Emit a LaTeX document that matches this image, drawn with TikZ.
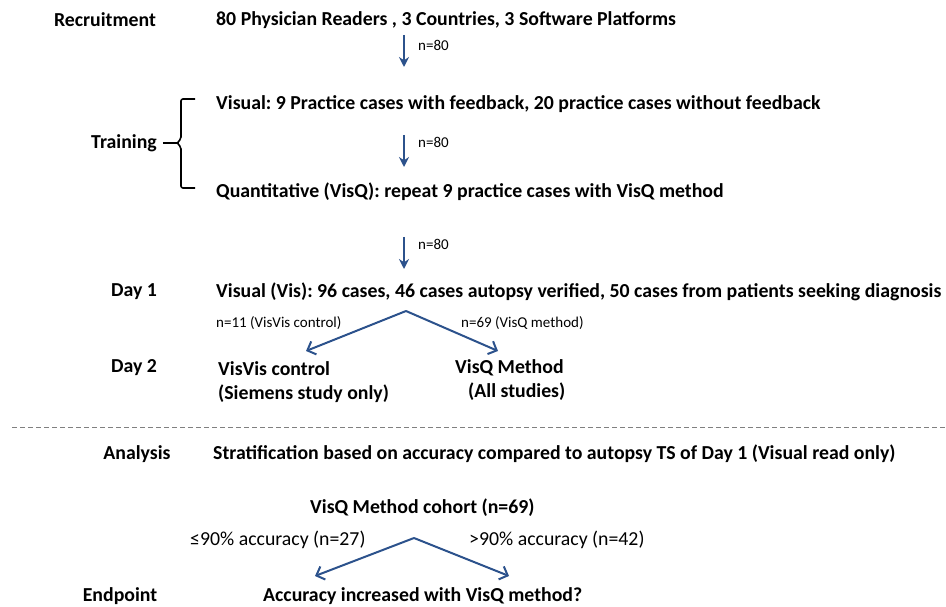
\documentclass[tikz,border=0pt]{standalone}
\usepackage{fontspec}
\setmainfont{Carlito}
\usetikzlibrary{arrows.meta}
\definecolor{flowblue}{RGB}{44,82,140}
\frenchspacing
\begin{document}
\begin{tikzpicture}[x=1pt,y=-1pt,
  lbl/.style={font=\fontsize{19.8}{24}\selectfont\bfseries, inner sep=0pt},
  txt/.style={font=\fontsize{19.8}{24}\selectfont\bfseries, inner sep=0pt, anchor=west},
  small/.style={font=\fontsize{15}{18}\selectfont, inner sep=0pt, anchor=west},
  mid/.style={font=\fontsize{19.8}{24}\selectfont, inner sep=0pt, anchor=west},
  down/.style={draw=flowblue, line width=2pt, -{Stealth[length=10pt,width=10pt]}},
  fork/.style={draw=flowblue, line width=2pt, -{Straight Barb[length=7pt,width=14pt]}}]
\useasboundingbox (0,0) rectangle (946,607);

% stage labels
\node[lbl] (recr) at (105,20) {Recruitment};
\node[lbl] (train) at (124,143) {Training};
\node[lbl] (day1) at (134,292) {Day 1};
\node[lbl] (day2) at (134,368) {Day 2};
\node[lbl] (anal) at (137,454) {Analysis};
\node[lbl] (endp) at (120,596) {Endpoint};

% main flow
\node[txt] (readers) at (216,20) {80 Physician Readers , 3 Countries, 3 Software Platforms};
\node[txt] (visual) at (216,104) {Visual: 9 Practice cases with feedback, 20 practice cases without feedback};
\node[txt] (quant) at (216,192) {Quantitative (VisQ): repeat 9 practice cases with VisQ method};
\node[txt] (vis) at (216,292) {Visual (Vis): 96 cases, 46 cases autopsy verified, 50 cases from patients seeking diagnosis};
\node[txt, align=left] (visvis) at (218,382) {VisVis control\\(Siemens study only)};
\node[txt, align=left] (visq) at (455,380) {VisQ Method\\\hspace*{13pt}(All studies)};

% vertical connectors
\coordinate (a1s) at (404,35);  \coordinate (a1e) at (404,67);
\coordinate (a2s) at (404,135); \coordinate (a2e) at (404,167);
\coordinate (a3s) at (404,237); \coordinate (a3e) at (404,269);
\draw[down] (a1s) -- (a1e);
\draw[down] (a2s) -- (a2e);
\draw[down] (a3s) -- (a3e);
\node[small] (n1) at (418,45) {n=80};
\node[small] (n2) at (418,142) {n=80};
\node[small] (n3) at (418,244) {n=80};

% training bracket
\draw[line width=1.6pt, rounded corners=2pt]
  (195,99) -- (181,99) -- (181,139) -- (177,143) -- (181,147) -- (181,188) -- (195,188);
\coordinate (tip) at (178,143);
\draw[line width=1.6pt] (train.east) ++(6,0) -- (tip);

% day 1 -> day 2 fork
\coordinate (f1) at (406,311);
\coordinate (f1l) at (306,351);
\coordinate (f1r) at (498,351);
\draw[fork] (f1) -- (f1l);
\draw[fork] (f1) -- (f1r);
\node[small] (n11) at (216,323) {n=11 (VisVis control)};
\node[small] (n69) at (461,323) {n=69 (VisQ method)};

% separator
\coordinate (sepl) at (12,427);
\coordinate (sepr) at (946,427);
\draw[gray, line width=0.9pt, dash pattern=on 5pt off 3pt] (sepl) -- (sepr);

% analysis
\node[txt] (strat) at (213,454) {Stratification based on accuracy compared to autopsy TS of Day 1 (Visual read only)};
\node[txt] (cohort) at (310,508) {VisQ Method cohort (n=69)};
\coordinate (f2) at (414,538);
\coordinate (f2l) at (315,576);
\coordinate (f2r) at (509,576);
\draw[fork] (f2) -- (f2l);
\draw[fork] (f2) -- (f2r);
\node[mid] (low) at (190,540) {≤90\% accuracy (n=27)};
\node[mid] (high) at (469,540) {>90\% accuracy (n=42)};
\node[txt] (endq) at (263,596) {Accuracy increased with VisQ method?};
\end{tikzpicture}
\end{document}
